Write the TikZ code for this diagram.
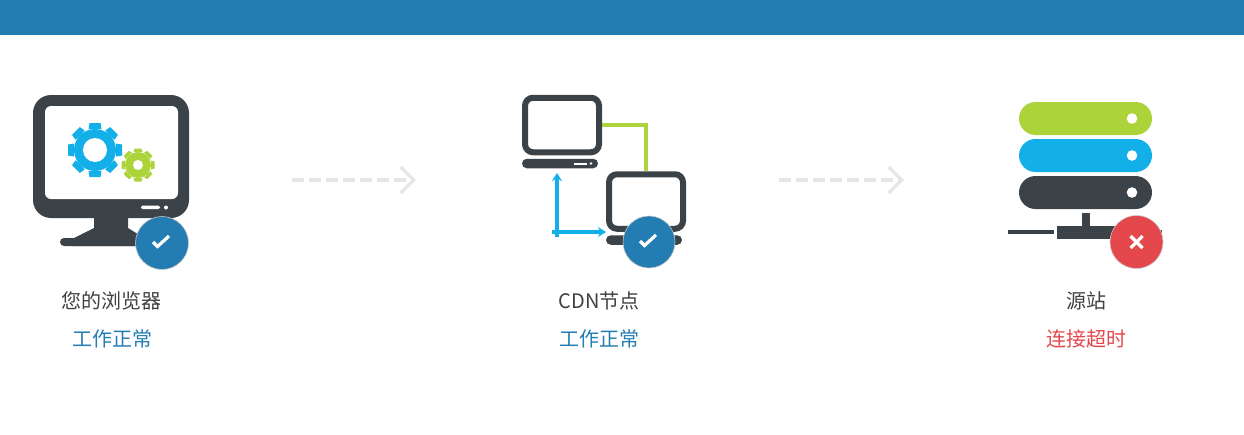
\documentclass[tikz,border=0pt]{standalone}
\usepackage{fontspec}
\setmainfont{Noto Sans CJK SC}
\usetikzlibrary{arrows.meta, shapes.misc}
\definecolor{primary}{RGB}{35, 124, 178}
\definecolor{dark}{RGB}{59, 66, 72}
\definecolor{sky}{RGB}{18, 175, 232}
\definecolor{lime}{RGB}{173, 211, 58}
\definecolor{danger}{RGB}{228, 71, 76}
\definecolor{faint}{RGB}{230, 230, 230}
\definecolor{textgray}{RGB}{64, 64, 64}

\begin{document}
\begin{tikzpicture}[
      x=1pt, y=-1pt,
      shell/.style={draw=none, inner sep=0pt, outer sep=0pt, minimum width=#1},
      panel/.style={shell=#1, fill=white, rounded corners=6pt},
      bar/.style={shell=#1, rounded rectangle, fill=dark, minimum height=9.5pt},
      screen/.style={shell=74pt, draw=dark, line width=6pt, outer sep=3pt, fill=white, rounded corners=8pt, minimum height=54.5pt},
      drum/.style={shell=133pt, rounded rectangle, minimum height=33pt},
      badge/.style={circle, draw=black!22, line width=0.6pt, inner sep=0pt, minimum size=#1},
      tickline/.style={white, line width=3.2pt},
      dasharrow/.style={faint, line width=3.2pt, dash pattern=on 12pt off 5pt, -{Straight Barb[length=13pt, width=26pt, line width=3.2pt]}},
      bluearrow/.style={sky, line width=3.4pt, -{Stealth[length=8pt, width=10pt]}},
      caption/.style={font=\fontsize{20}{22}\selectfont, text=textgray, inner sep=0pt},
      status/.style={caption, text=#1}
    ]
      \useasboundingbox (0,0) rectangle (1244,434);

      % Header
      \fill[primary] (0,0) rectangle (1244,35);

      % Browser
      \fill[dark] (73,238.5) -- (94,228) -- (94,210) -- (128,210) -- (128,228) -- (145,238.5) -- (145,246) -- (73,246) -- cycle;
      \node[bar=105pt, minimum height=8pt] (stand) at (112.5,242) {};
      \node[shell=156pt, fill=dark, rounded corners=18pt, minimum height=123pt] (monitor) at (111,156.5) {};
      \node[panel=133pt, minimum height=93pt] (display) at (111.5,152.5) {};
      \fill[white, rounded corners=1.5pt] (141,205.5) rectangle (160,209);
      \fill[white] (166,207.5) circle (2);
      \foreach \cx/\cy/\body/\tooth/\wide/\hole/\col in {95/150/21/27/11/12/sky, 138/165/13/16.5/7/5/lime} {
        \foreach \a in {0,45,...,315}
          \fill[\col, shift={(\cx,\cy)}, rotate=\a] (-\wide/2-1,-\body) -- (-\wide/2,-\tooth) -- (\wide/2,-\tooth) -- (\wide/2+1,-\body) -- cycle;
        \fill[\col] (\cx,\cy) circle (\body);
        \fill[white] (\cx,\cy) circle (\hole);
      }

      % CDN
      \node[screen] (laptopa) at (562,125) {};
      \node[bar=76pt] (basea) at (560,163.5) {};
      \fill[white] (574,162.5) rectangle (587,164.5);
      \fill[white] (591,163.5) circle (1.3);
      \node[screen] (laptopb) at (646,201.5) {};
      \node[bar=76pt] (baseb) at (644,240) {};
      \draw[lime, line width=4pt] (laptopa) -| (laptopb);
      \coordinate (cornerup) at (557,173);
      \coordinate (cornerright) at (606,232);
      \coordinate (cornerleft) at (552,232);
      \coordinate (cornerdown) at (557,237);
      \draw[bluearrow] (cornerdown) -- (cornerup);
      \draw[bluearrow] (cornerleft) -- (cornerright);

      % Origin
      \node[drum, fill=lime] (drumtop) at (1085.5,118.5) {};
      \node[drum, fill=sky] (drummid) at (1085.5,155.5) {};
      \node[drum, fill=dark] (drumlow) at (1085.5,192.5) {};
      \foreach \n in {drumtop,drummid,drumlow}
        \fill[white] ([xshift=-20pt]\n.east) circle (5.3);
      \fill[dark] (1082,213) rectangle (1089.5,227);
      \fill[dark] (1057,226) rectangle (1125,238.5);
      \fill[dark] (1008,229.5) rectangle (1053.5,234);
      \fill[dark] (1125,229.5) rectangle (1162,234);

      % Arrows
      \coordinate (flowa) at (292,180);
      \coordinate (flowb) at (416,180);
      \coordinate (flowc) at (779,180);
      \coordinate (flowd) at (904,180);
      \draw[dasharrow] (flowa) -- (flowb);
      \draw[dasharrow] (flowc) -- (flowd);

      % Badges
      \node[badge=53pt, fill=primary] (badgea) at (162,243) {};
      \node[badge=52pt, fill=primary] (badgeb) at (649,242) {};
      \node[badge=53pt, fill=danger] (badgec) at (1136.5,242) {};
      \foreach \n in {badgea,badgeb}
        \draw[tickline, shift={(\n)}] (-9,-1) -- (-4.5,3.5) -- (7,-7);
      \draw[tickline, shift={(badgec)}] (-6,-6) -- (6,6) (-6,6) -- (6,-6);

      % Labels
      \node[caption] (browser) at (111.5,301) {您的浏览器};
      \node[status=primary] (browserok) at (112,339) {工作正常};
      \node[caption] (cdn) at (599,301) {CDN节点};
      \node[status=primary] (cdnok) at (599,339) {工作正常};
      \node[caption] (origin) at (1086,301) {源站};
      \node[status=danger] (timeout) at (1086,339) {连接超时};
    \end{tikzpicture}
\end{document}
